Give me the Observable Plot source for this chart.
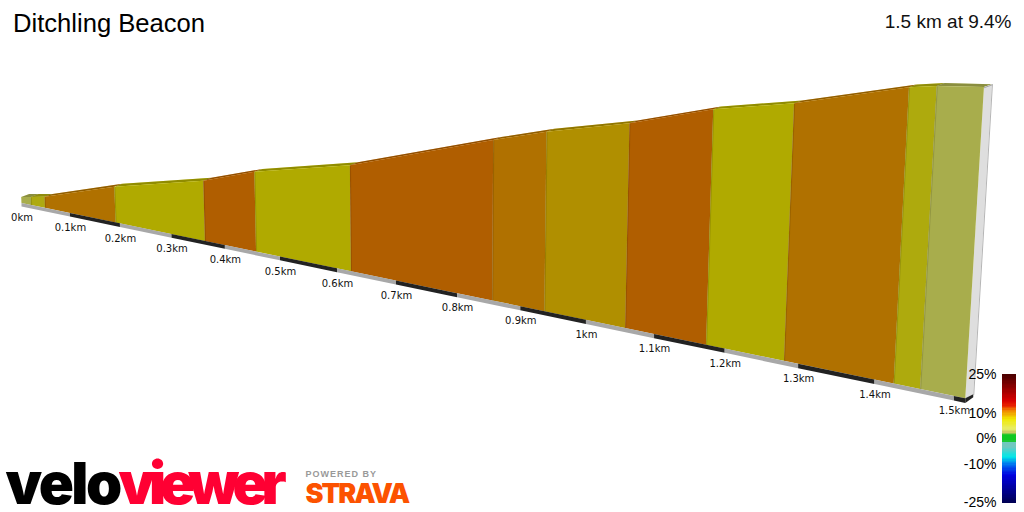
<!DOCTYPE html>
<html><head><meta charset="utf-8">
<script src="https://cdn.jsdelivr.net/npm/d3@7"></script>
<script src="https://cdn.jsdelivr.net/npm/@observablehq/plot@0.6"></script>
<style>html,body{margin:0;padding:0;background:#fff}svg{display:block}</style>
</head><body><div id="chart"></div>
<script>
// Profile stations: distance (km) and height above start (m)
const stationKm   = [0, 0.02, 0.049, 0.1915, 0.363, 0.457, 0.624, 0.856, 0.937, 1.058, 1.174, 1.281, 1.4245, 1.458, 1.514];
const stationElev = [0, 1.2, 3.0, 17.5, 31, 41.5, 54.7, 81.2, 89.9, 100.6, 113.7, 122.1, 137, 139.3, 141.5];
// Gradient (%) of each section between stations
const sectionGrade = [3.9, 7, 10.3, 7.9, 11.3, 7.9, 11.3, 10.3, 8.9, 11.3, 7.9, 10.3, 7.2, 3.9];
// Distance markers
const tickKm = [0,0.1,0.2,0.3,0.4,0.5,0.6,0.7,0.8,0.9,1,1.1,1.2,1.3,1.4,1.5];
const tickLabels = ["0km","0.1km","0.2km","0.3km","0.4km","0.5km","0.6km","0.7km","0.8km","0.9km","1km","1.1km","1.2km","1.3km","1.4km","1.5km"];
// Colour legend
const legendGrades = [25,10,0,-10,-25];
const legendLabels = ["25%","10%","0%","-10%","-25%"];
const rampGrades = [-25,-14,-10,-7,-3,-1.1,-0.7,1.6,2.6,3.9,7.9,8.9,10.3,11.3,13,15,25];
const rampColors = ["#000050","#0000e0","#0070f0","#00e8e8","#70c8c0","#70c8c0","#10c820","#10c820","#c8c860","#e7ed69","#f1e900","#f1c500","#f19c00","#f18200","#e82000","#d80000","#4a0000"];
const title = "Ditchling Beacon";
const summary = "1.5 km at 9.4%";

// Perspective camera of the 3D wall
const P = {x0:21.5, y0:203, A:476.8, k:0.1553, slope:0.207, base:6, m:1.64, vx:440, lean:0.000114, bx:8, by:2.9};
const depth = km => 1/(1 - P.k*km);
const baseX = km => P.x0 + P.A*km*depth(km);
const baseY = km => P.y0 + P.slope*(baseX(km) - P.x0);
const wallH = (km,e) => (P.base + P.m*e)*depth(km);
const topX = (km,e) => baseX(km) + wallH(km,e)*(baseX(km) - P.vx)*P.lean;
const topY = (km,e) => baseY(km) - wallH(km,e);

const sections = sectionGrade.map((grade,i)=>({id:i,grade,a:i,b:i+1}));
const quad = (s,f) => [s.a,s.b].map(j=>({id:s.id,grade:s.grade,...f(stationKm[j],stationElev[j])}));
const wall = sections.flatMap(s=>quad(s,(k,e)=>({x1:baseX(k),y1:baseY(k),x2:topX(k,e),y2:topY(k,e)})));
const road = sections.flatMap(s=>quad(s,(k,e)=>({x1:topX(k,e),y1:topY(k,e),x2:topX(k,e)+P.bx,y2:topY(k,e)-P.by})));
const edges = stationKm.slice(1,-1).map((k,i)=>({x1:baseX(k),y1:baseY(k),x2:topX(k,stationElev[i+1]),y2:topY(k,stationElev[i+1])}));

const endK = stationKm.at(-1), endE = stationElev.at(-1);
const cap = [
  {x1:baseX(endK),y1:baseY(endK),x2:topX(endK,endE),y2:topY(endK,endE)},
  {x1:baseX(endK)+P.bx,y1:baseY(endK)-4,x2:topX(endK,endE)+P.bx,y2:topY(endK,endE)-P.by}
];
// Distance strip below the wall, alternating grey and black per 0.1 km
const stripKm = [...tickKm, endK];
const strip = stripKm.slice(0,-1).flatMap((k,i)=>[k,stripKm[i+1]].map(q=>({id:i,tone:i%2?"#222222":"#a8a8a8",
  x:baseX(q),y1:baseY(q),y2:baseY(q)+3.5*depth(q)})));
const stripSide = [
  {x1:baseX(endK),y1:baseY(endK),x2:baseX(endK),y2:baseY(endK)+3.5*depth(endK)},
  {x1:baseX(endK)+P.bx,y1:baseY(endK)-4,x2:baseX(endK)+P.bx,y2:baseY(endK)-1}
];
const ticks = tickKm.map((k,i)=>({x:baseX(k),y:baseY(k)+14.5,label:tickLabels[i]}));

// Legend: one slim bar per half percent
const gy = g => 438.5 - 2.56*g;
const barGrades = d3.range(-25,25,0.5);
const font = "Liberation Sans, Arial, sans-serif";

const chart = Plot.plot({
  width:1024, height:512, margin:0,
  x:{domain:[0,1024],range:[0,1024],axis:null},
  y:{domain:[0,512],range:[0,512],axis:null},
  color:{type:"linear",domain:rampGrades,range:rampColors,interpolate:"rgb"},
  style:{background:"#fff",overflow:"hidden"},
  marks:[
    // road surface on top of wall
    Plot.area(road,{x1:"x1",y1:"y1",x2:"x2",y2:"y2",z:"id",fill:"grade"}),
    Plot.area(road,{x1:"x1",y1:"y1",x2:"x2",y2:"y2",z:"id",fill:"#000",fillOpacity:0.4}),
    // end cap
    Plot.area(cap,{x1:"x1",y1:"y1",x2:"x2",y2:"y2",fill:"#dedede"}),
    Plot.link([cap[1]],{x1:"x1",y1:"y1",x2:"x2",y2:"y2",stroke:"#b5b5b5",strokeWidth:1}),
    Plot.line(cap,{x:"x2",y:"y2",stroke:"#a5a5a5",strokeWidth:1}),
    // wall
    Plot.area(wall,{x1:"x1",y1:"y1",x2:"x2",y2:"y2",z:"id",fill:"grade"}),
    Plot.area(wall,{x1:"x1",y1:"y1",x2:"x2",y2:"y2",z:"id",fill:"#000",fillOpacity:0.27}),
    Plot.link(edges,{x1:"x1",y1:"y1",x2:"x2",y2:"y2",stroke:"#000",strokeOpacity:0.12,strokeWidth:1.2}),
    // distance strip
    Plot.area(strip,{x1:"x",y1:"y1",y2:"y2",z:"id",fill:"tone"}),
    Plot.area(stripSide,{x1:"x1",y1:"y1",x2:"x2",y2:"y2",fill:"#222222"}),
    Plot.text(ticks,{x:"x",y:"y",text:"label",fontSize:10,fontFamily:"DejaVu Sans",fill:"#111"}),
    // legend
    Plot.rect(barGrades,{x1:()=>1002.5,x2:()=>1015,y1:g=>gy(g),y2:g=>gy(g+0.5),fill:g=>g+0.25,inset:-0.5,shapeRendering:"crispEdges"}),
    Plot.text(legendGrades,{x:()=>996,y:g=>gy(g),text:(g,i)=>legendLabels[i],textAnchor:"end",fontSize:14,fontFamily:font,fill:"#000"}),
    // titles
    Plot.text([title],{x:()=>12.5,y:()=>23,text:d=>d,textAnchor:"start",fontSize:25.6,fontFamily:font,fill:"#000"}),
    Plot.text([summary],{x:()=>1011,y:()=>21,text:d=>d,textAnchor:"end",fontSize:19,fontFamily:font,fill:"#111"}),
    // brand marks
    Plot.text(["velo"],{x:()=>5,y:()=>484.5,text:d=>d,textAnchor:"start",fontSize:58,fontWeight:900,fontFamily:"Inter",fill:"#000"}),
    Plot.text(["viewer"],{x:()=>118,y:()=>484.5,text:d=>d,textAnchor:"start",fontSize:58,fontWeight:900,fontFamily:"Inter",fill:"#ff0033"}),
    Plot.text(["POWERED BY"],{x:()=>305,y:()=>474,text:d=>d,textAnchor:"start",fontSize:9,fontWeight:700,fontFamily:"Liberation Sans",fill:"#999"}),
    Plot.text(["STRAVA"],{x:()=>305,y:()=>494,text:d=>d,textAnchor:"start",fontSize:27,fontWeight:900,fontFamily:"Inter",fill:"#fc5200"})
  ]
});
const spacing = {"velo":"-2.5px","viewer":"-6.2px","POWERED BY":"1px","STRAVA":"-1.9px"};
d3.select(chart).selectAll("text").each(function(){
  const s = spacing[this.textContent];
  if(s) this.style.letterSpacing = s;
});
document.getElementById("chart").append(chart);
</script>
</body></html>
